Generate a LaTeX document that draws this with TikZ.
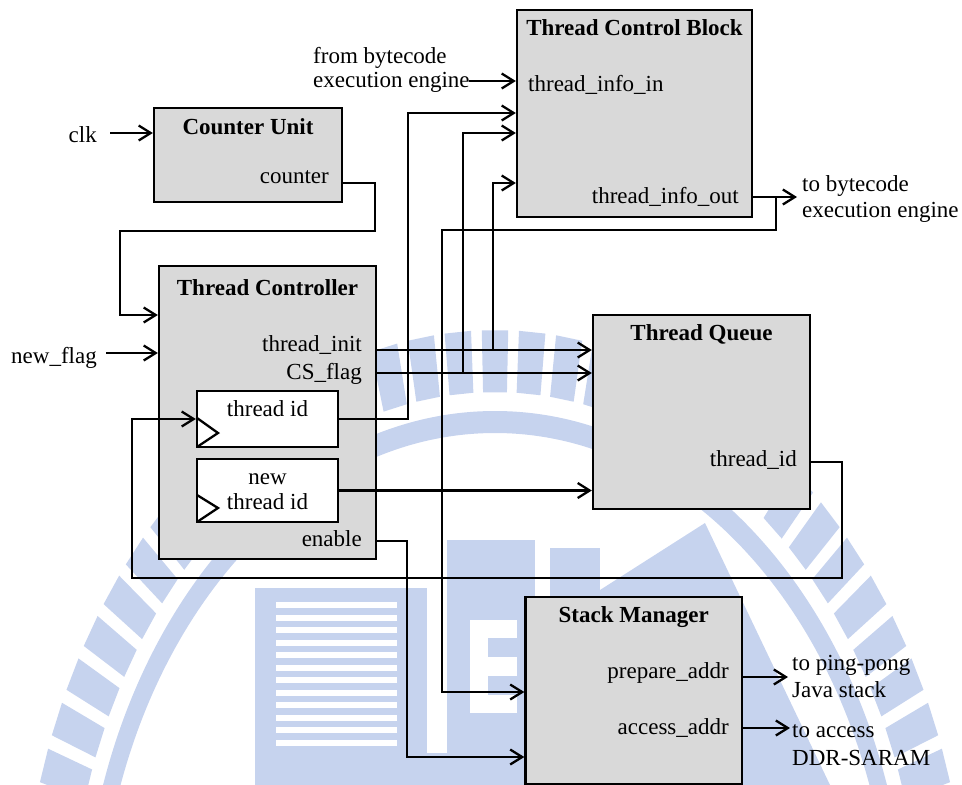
\documentclass[tikz,border=0pt]{standalone}
\usepackage{fontspec}
\setmainfont{Liberation Serif}
\usetikzlibrary{arrows.meta}
\definecolor{boxgray}{HTML}{D9D9D9}
\definecolor{wmblue}{RGB}{198,211,238}
\tikzset{
  blk/.style={draw, line width=2.3pt, fill=boxgray, inner sep=0pt},
  reg/.style={draw, line width=2.3pt, fill=white, inner sep=0pt},
  ttl/.style={font=\bfseries\fontsize{23}{26}\selectfont, inner sep=0pt, anchor=base},
  lbl/.style={font=\fontsize{23}{26}\selectfont, inner sep=0pt},
  wire/.style={line width=2.3pt},
  sig/.style={wire, -{Straight Barb[length=12pt,width=15pt]}},
}
\begin{document}
\begin{tikzpicture}[x=1pt,y=-1pt]
\useasboundingbox (0,0) rectangle (962,785);

% ---- emblem in the background ----
\begin{scope}
  \clip (0,0) rectangle (962,785);
  \begin{scope}[shift={(495,960)}, xscale=0.753]
    \fill[wmblue, even odd rule] (0,0) circle (549) (0,0) circle (527);
    \foreach \a in {180,184.5,...,360}
      \fill[wmblue] (\a-1.6:568) -- (\a-1.6:630) -- (\a+1.6:630) -- (\a+1.6:568) -- cycle;
  \end{scope}
  % striped block
  \fill[wmblue] (255,588) rectangle (427,785);
  \foreach \s in {602,614.5,...,740}
    \fill[white] (276,\s) rectangle (397,\s+6);
  \fill[wmblue] (427,753) rectangle (447,785);
  % column with the E
  \fill[wmblue] (447,540) rectangle (535,785);
  \fill[white] (470,620) rectangle (488,713);
  \fill[white] (488,620) rectangle (517,638);
  \fill[white] (488,657) rectangle (517,676);
  \fill[white] (488,695) rectangle (517,713);
  % right column and peak
  \fill[wmblue] (550,548) rectangle (600,785);
  \fill[wmblue] (705,523) -- (830,785) -- (600,785) -- (600,590) -- cycle;
\end{scope}

% ---- blocks ----
\node[blk, minimum width=235pt, minimum height=207pt] (tcb) at (634.5,113.5) {};
\node[ttl] (tcbT) at (634.5,35) {Thread Control Block};
\node[lbl, anchor=base west] (tcbIn) at (528,91) {thread\_info\_in};
\node[lbl, anchor=base east] (tcbOut) at (739,203) {thread\_info\_out};

\node[blk, minimum width=188pt, minimum height=94pt] (cu) at (248,155) {};
\node[ttl] (cuT) at (248,134) {Counter Unit};
\node[lbl, anchor=base east] (cuCnt) at (329,183) {counter};

\node[blk, minimum width=217pt, minimum height=293pt] (tc) at (267.5,412.5) {};
\node[ttl] (tcT) at (267.5,295) {Thread Controller};
\node[lbl, anchor=base east] (tcInit) at (362,351) {thread\_init};
\node[lbl, anchor=base east] (tcCS) at (362,379) {CS\_flag};
\node[lbl, anchor=base east] (tcEn) at (362,546) {enable};

\node[reg, minimum width=141pt, minimum height=56pt] (tid) at (267.5,419) {};
\node[lbl, anchor=base] (tidT) at (267.5,416) {thread id};
\draw[wire] (197,418) -- (218,433) -- (197,447);

\node[reg, minimum width=141pt, minimum height=63pt] (ntid) at (267.5,490.5) {};
\node[lbl, anchor=base, align=center, font=\fontsize{23}{25}\selectfont] (ntidT) at (267.5,509) {new\\thread id};
\draw[wire] (197,495) -- (218,508) -- (197,522);

\node[blk, minimum width=217pt, minimum height=194pt] (tq) at (701.5,412) {};
\node[ttl] (tqT) at (701.5,340) {Thread Queue};
\node[lbl, anchor=base east] (tqId) at (797,466) {thread\_id};

\node[blk, minimum width=216.5pt, minimum height=187pt] (sm) at (633.75,690.5) {};
\node[ttl] (smT) at (633.75,622) {Stack Manager};
\node[lbl, anchor=base east] (smPrep) at (729,678) {prepare\_addr};
\node[lbl, anchor=base east] (smAcc) at (729,734) {access\_addr};

% ---- outside labels ----
\node[lbl, anchor=base east] (clk) at (97,142) {clk};
\node[lbl, anchor=base west] (nflag) at (11,363) {new\_flag};
\node[lbl, anchor=base west, align=left, font=\fontsize{23}{24}\selectfont] (fromBE) at (313,87) {from bytecode\\execution engine};
\node[lbl, anchor=base west, align=left] (toBE) at (802,217) {to bytecode\\execution engine};
\node[lbl, anchor=base west, align=left, font=\fontsize{23}{27}\selectfont] (toPP) at (792,697) {to ping-pong\\Java stack};
\node[lbl, anchor=base west, align=left, font=\fontsize{23}{28}\selectfont] (toDDR) at (792,765) {to access\\DDR-SARAM};

% ---- wire end points ----
\coordinate (clkA) at (110,133);
\coordinate (nfA) at (106,353);
\coordinate (fbA) at (469,81);

% ---- connections ----
\draw[sig] (clkA) -- (clkA -| cu.west);
\draw[sig] (nfA) -- (nfA -| tc.west);
\draw[sig] (fbA) -- (fbA -| tcb.west);
\draw[sig] (cu.east |- 0,183) -- (375,183) -- (375,231) -- (120,231) -- (120,315) -- (tc.west |- 0,315);
\draw[sig] (tid.east) -- (408,419) -- (408,113) -- (tcb.west |- 0,113);
\draw[sig] (tc.east |- 0,350) -- (tq.west |- 0,350);
\draw[sig] (493,350) -- (493,183) -- (tcb.west |- 0,183);
\draw[sig] (tc.east |- 0,373) -- (tq.west |- 0,373);
\draw[sig] (463,373) -- (463,133) -- (tcb.west |- 0,133);
\draw[sig] (ntid.east) -- (tq.west |- ntid.east);
\draw[sig] (tcb.east |- 0,197) -- (797,197);
\draw[sig] (776,197) -- (776,230) -- (442,230) -- (442,692) -- (sm.west |- 0,692);
\draw[sig] (tq.east |- 0,462) -- (842,462) -- (842,578) -- (132,578) -- (132,419) -- (tid.west);
\draw[sig] (tc.east |- 0,541) -- (407,541) -- (407,757) -- (sm.west |- 0,757);
\draw[sig] (sm.east |- 0,677) -- (788,677);
\draw[sig] (sm.east |- 0,728) -- (790,728);
\end{tikzpicture}
\end{document}
